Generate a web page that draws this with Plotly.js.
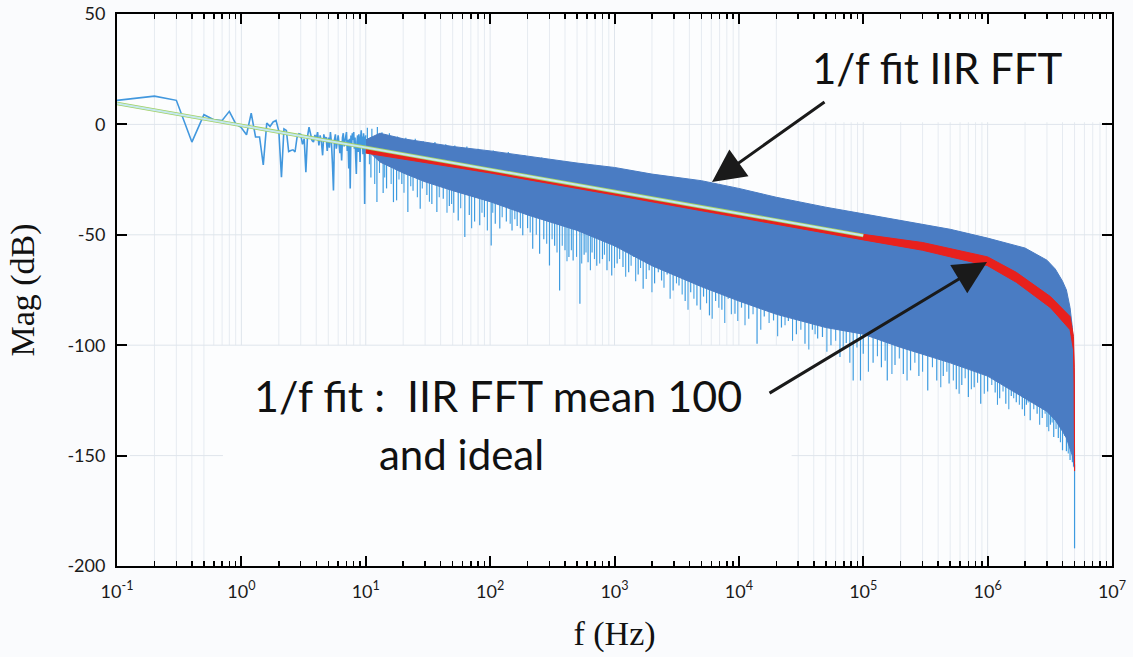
<!DOCTYPE html>
<html>
<head>
<meta charset="utf-8">
<script src="https://cdn.plot.ly/plotly-3.0.1.min.js"></script>
<style>html,body{margin:0;padding:0;background:#fafbfd;}#chart{width:1133px;height:657px;}</style>
</head>
<body>
<div id="chart"></div>
<script>
// Low-frequency FFT bins (0.1 Hz spacing)
const lowF = [0.1,0.2,0.3,0.4,0.5,0.6,0.7,0.8,0.9,1.0,
  1.1,1.2,1.3,1.4,1.5,1.6,1.7,1.8,1.9,2.0,
  2.1,2.2,2.3,2.4,2.5,2.6,2.7,2.8,2.9,3.0,
  3.1,3.2,3.3,3.4,3.5,3.6,3.7,3.8,3.9,4.0,
  4.1,4.2,4.3,4.4,4.5,4.6,4.7,4.8,4.9,5.0,
  5.1,5.2,5.3,5.4,5.5,5.6,5.7,5.8,5.9,6.0,
  6.1,6.2,6.3,6.4,6.5,6.6,6.7,6.8,6.9,7.0,
  7.1,7.2,7.3,7.4,7.5,7.6,7.7,7.8,7.9,8.0,
  8.1,8.2,8.3,8.4,8.5,8.6,8.7,8.8,8.9,9.0,
  9.1,9.2,9.3,9.4,9.5,9.6,9.7,9.8,9.9,10.0];
const lowDb = [10.9,12.8,10.9,-8.0,4.4,2.1,1.8,5.9,0.3,-1.5,
  -4.7,5.1,-5.7,-5.7,-18.3,0.6,-0.9,1.1,1.8,-3.0,
  -23.9,-2.0,-2.7,-12.3,-11.8,-11.5,-12.5,-6.0,-4.2,-4.5,
  -9.0,-6.5,-21.6,-5.5,-1.2,-4.0,-7.3,-8.0,-4.8,-6.5,
  -3.5,-9.5,-5.0,-8.0,-14.0,-4.5,-7.0,-5.7,-12.0,-6.0,
  -10.5,-3.5,-8.5,-18.0,-29.9,-7.0,-4.5,-11.0,-6.0,-5.0,
  -9.0,-13.0,-7.5,-16.3,-6.0,-4.0,-10.0,-8.0,-5.5,-3.5,
  -12.0,-7.0,-20.0,-6.5,-29.0,-5.0,-9.5,-4.0,-7.0,-3.5,
  -11.0,-6.0,-15.0,-22.4,-8.0,-5.0,-12.5,-4.5,-7.5,-17.0,
  -6.0,-2.7,-10.0,-5.5,-13.5,-4.0,-8.0,-36.0,-6.5,-5.0];

// Dense part of the IIR FFT spectrum: envelope of the solid band
const bandF     = [10,13,20,30,50,100,200,500,1e3,2e3,5e3,1e4,2e4,5e4,1e5,2e5,5e5,1e6,2e6,3e6,3.5e6,4e6,4.3e6,4.6e6,4.8e6,4.9e6,4.97e6,5e6];
const bandUpper = [-7,-4,-6.5,-8,-10,-12,-14.5,-17.5,-19.5,-22.5,-25.5,-29,-33,-37.5,-40.5,-43.5,-47.5,-51.5,-56,-61.5,-65.5,-71,-75,-83,-92,-100,-118,-152];
const bandLower = [-11,-17,-22,-26,-30,-35,-41,-48,-55,-64,-73.5,-80,-86,-92,-95,-101,-108,-114,-124,-130,-134,-139,-142,-147,-150,-153,-155,-156];

// Deep spikes that stick out of the band (frequency, dB)
const spikeF = [10.3,11,11.2,12.3,12.4,13.5,13.8,14.7,15.5,16.7,17.7,18,19.5,21,21.8,24,25,27.4,29,31,34,36,37.3,42,44,47,51,52,55.4,62.6,65,68,75,80,82.5,90,102,106,
  110,119.6,135,140,150,165,183,190,200,220,250,260,270,300,330,362,400,430,465,527,570,613,660,720,800,870,950,1050,1170,1300,1420,
  1550,1700,1900,2100,2390,2650,2960,3300,3700,4100,4600,5200,5800,6500,7300,8200,9300,
  1.05e4,1.2e4,1.4e4,1.6e4,1.9e4,2.2e4,2.5e4,2.9e4,3.4e4,3.9e4,4.3e4,4.7e4,5.5e4,6.5e4,7.3e4,8.3e4,9.5e4,
  1.0e5,1.2e5,1.4e5,1.56e5,1.8e5,2.1e5,2.4e5,2.8e5,3.3e5,3.9e5,4.4e5,4.9e5,5.6e5,6.2e5,7e5,7.8e5,8.8e5,1.0e6,
  1.15e6,1.25e6,1.4e6,1.55e6,1.7e6,1.9e6,2.05e6,2.2e6,2.5e6,2.75e6,3.0e6,3.2e6,3.4e6,3.7e6,4.0e6,4.3e6,4.6e6,4.8e6,5.0e6];
const spikeDb = [-1.5,-24,-2,-35.2,-1.2,-3.5,-31.1,-29,-4,-35.2,-34.4,-5.5,-27,-6,-39.7,-30,-6.5,-38.2,-7.6,-32,-36,-8,-39.7,-33.7,-9,-37,-40,-9.5,-43.5,-51,-10,-41,-44,-11,-45.7,-42,-54.8,-11.8,
  -45,-47.2,-44,-12.5,-48,-46,-50.2,-14,-47,-56.3,-58.6,-15,-52,-63.9,-55,-75.2,-57,-60,-61.6,-81.2,-59,-62.4,-58,-64,-61,-66,-68.4,-63,-64.6,-67,-60,
  -68,-74.4,-66,-72,-70.7,-68,-75.2,-73,-80,-76,-82,-78,-86.5,-80,-84,-79,-85.7,
  -83,-88,-99.3,-87,-88.8,-92,-89,-95,-99.3,-93,-97,-96.3,-100,-105.4,-99,-116,-116,
  -103.9,-108,-110,-116,-109,-113,-111.4,-114,-120.5,-116,-114,-117.4,-120,-118,-123.5,-119,-126.5,-121,
  -121.4,-124,-126.5,-123,-125.8,-129,-127,-134,-131,-133,-137,-136,-141.6,-142,-147.6,-148,-152,-153,-192];

// Shorter hairs just below the band (frequency, dB)
const fringeF = [10.7,11.8,12.9,14.2,16,18.5,20.3,23,26,28.5,32.5,39,45,49,58,71,86,95,
  105,125,145,158,175,210,235,285,315,345,380,415,450,495,545,590,640,690,760,830,910,1000,1100,1230,1360,
  1480,1620,1800,2000,2250,2500,2800,3150,3500,3900,4350,4900,5500,6100,6900,7700,8700,9800,
  1.12e4,1.3e4,1.5e4,1.75e4,2.05e4,2.35e4,2.7e4,3.15e4,3.65e4,4.1e4,5.1e4,6e4,6.9e4,7.8e4,8.9e4,
  1.1e5,1.3e5,1.5e5,1.7e5,1.95e5,2.25e5,2.6e5,3e5,3.6e5,4.2e5,4.7e5,5.3e5,5.9e5,6.6e5,7.4e5,8.3e5,9.4e5,
  1.08e6,1.2e6,1.33e6,1.48e6,1.62e6,1.8e6,1.98e6,2.12e6,2.35e6,2.62e6,2.9e6,3.1e6,3.3e6,3.55e6,3.85e6,4.15e6,4.45e6,4.7e6,4.9e6];
const fringeDb = [-18,-27,-22,-24,-27,-25,-31,-28,-33,-29,-35,-33,-40,-36,-38,-47,-40,-48,
  -40,-42,-45,-43,-47,-49,-50,-54,-52,-58,-55,-62,-57,-60,-63,-58,-66,-61,-63,-59,-62,-65,-61,-69,-64,
  -71,-65,-70,-76,-67,-74,-79,-72,-77,-84,-79,-84,-81,-88,-83,-90,-86,-89,
  -91,-86,-93,-90,-96,-91,-98,-93,-102,-95,-103,-98,-102,-108,-101,
  -112,-105,-107,-113,-106,-116,-108,-112,-110,-119,-112,-116,-122,-115,-120,-117,-122,
  -118,-127,-121,-129,-124,-127,-132,-126,-129,-136,-131,-139,-135,-138,-144,-141,-149,-147,-155];

// Mean of 100 IIR FFTs (red band)
const redF     = [10,100,1e3,1e4,1e5,3e5,1e6,1.7e6,3.2e6,4.6e6,4.9e6,4.97e6,5e6];
const redUpper = [-11,-20.6,-30.6,-40.5,-49.8,-53.5,-60,-67,-78,-87,-96,-110,-150];
const redLower = [-13,-22,-32,-42,-52.3,-57,-64,-71.5,-83,-93,-102,-118,-157];

// Ideal 1/f fit
const idealF  = [0.1, 1e5];
const idealDb = [9.5, -50.3];

// Axis ticks
const xTickVals = [0.1,1,10,100,1e3,1e4,1e5,1e6,1e7];
const xTickText = ['10<sup>-1</sup>','10<sup>0</sup>','10<sup>1</sup>','10<sup>2</sup>','10<sup>3</sup>','10<sup>4</sup>','10<sup>5</sup>','10<sup>6</sup>','10<sup>7</sup>'];
const yTickVals = [-200,-150,-100,-50,0,50];
const yTickText = ['-200','-150','-100','-50','0','50'];

const minorVals = [];
for (let d = -1; d < 7; d++) for (let k = 2; k <= 9; k++) minorVals.push(k * Math.pow(10, d));

function interpLog(f, F, V) {
  const lf = Math.log10(f);
  if (f <= F[0]) return V[0];
  for (let i = 1; i < F.length; i++) {
    if (f <= F[i]) {
      const a = Math.log10(F[i-1]), b = Math.log10(F[i]);
      const t = (lf - a) / (b - a);
      return V[i-1] + t * (V[i] - V[i-1]);
    }
  }
  return V[V.length-1];
}

function segs(F, D) {
  const sx = [], sy = [];
  F.forEach((f, i) => {
    const mid = (interpLog(f, bandF, bandUpper) + interpLog(f, bandF, bandLower)) / 2;
    sx.push(f, f, null);
    sy.push(mid, D[i], null);
  });
  return {sx, sy};
}
const s1 = segs(spikeF, spikeDb);
const s2 = segs(fringeF, fringeDb);

const bandX = bandF.concat(bandF.slice().reverse());
const bandY = bandUpper.concat(bandLower.slice().reverse());
const redX = redF.concat(redF.slice().reverse());
const redY = redUpper.concat(redLower.slice().reverse());

const traces = [
  {x: s2.sx, y: s2.sy, mode: 'lines', line: {color: '#45a0e2', width: 1.1}, hoverinfo: 'skip', showlegend: false},
  {x: s1.sx, y: s1.sy, mode: 'lines', line: {color: '#3d9be0', width: 1.2}, hoverinfo: 'skip', showlegend: false},
  {x: bandX, y: bandY, mode: 'lines', fill: 'toself', fillcolor: '#4a7cc3', line: {color: '#4a7cc3', width: 1}, showlegend: false, name: 'IIR FFT'},
  {x: lowF, y: lowDb, mode: 'lines', line: {color: '#4298de', width: 1.6}, showlegend: false, name: 'IIR FFT'},
  {x: redX, y: redY, mode: 'lines', fill: 'toself', fillcolor: '#e8211d', line: {color: '#e8211d', width: 1}, showlegend: false, name: 'IIR FFT mean 100'},
  {x: idealF, y: idealDb, mode: 'lines', line: {color: '#a2d064', width: 3.6}, showlegend: false, name: 'ideal'},
  {x: idealF, y: idealDb, mode: 'lines', line: {color: '#c4e8f0', width: 2}, showlegend: false, name: '1/f fit'}
];

// grid lines drawn as shapes so the text boxes can interrupt them
const box2 = {x0: 0.0965, x1: 0.684, y0: 0, y1: 0.400};
const box1 = {x0: 0.664, x1: 1, y0: 0.804, y1: 1};
const gridShapes = [];
function vline(px, y0, y1, color) {
  gridShapes.push({type: 'line', xref: 'paper', yref: 'paper', x0: px, x1: px, y0: y0, y1: y1, line: {color: color, width: 1}, layer: 'below'});
}
xTickVals.concat(minorVals).forEach((v, i) => {
  const px = (Math.log10(v) + 1) / 8;
  if (px <= 0.001 || px >= 0.999) return;
  const color = i < xTickVals.length ? '#dfe5ec' : '#e6ebf1';
  let y0 = 0, y1 = 1;
  if (px > box2.x0 && px < box2.x1) y0 = box2.y1;
  if (px > box1.x0 && px < box1.x1) y1 = box1.y0;
  vline(px, y0, y1, color);
});
yTickVals.forEach(v => {
  const py = (v + 200) / 250;
  if (py <= 0.001 || py >= 0.999) return;
  const c = {color: '#dfe5ec', width: 1};
  if (Math.abs(py - 0.2) < 1e-6) {
    gridShapes.push({type: 'line', xref: 'paper', yref: 'paper', x0: 0.013, x1: box2.x0 + 0.01, y0: py, y1: py, line: c, layer: 'below'});
    gridShapes.push({type: 'line', xref: 'paper', yref: 'paper', x0: box2.x1 - 0.006, x1: 1, y0: py, y1: py, line: c, layer: 'below'});
  } else {
    gridShapes.push({type: 'line', xref: 'paper', yref: 'paper', x0: 0, x1: 1, y0: py, y1: py, line: c, layer: 'below'});
  }
});

const axisCommon = {
  ticks: 'inside', ticklen: 10, tickwidth: 2, tickcolor: '#000',
  showline: true, linewidth: 2, linecolor: '#000', mirror: 'ticks',
  showgrid: false, zeroline: false,
  tickfont: {family: 'Lato, "Open Sans", sans-serif', size: 18, color: '#1a1a1a'}
};

const annFont = {family: 'Lato, "Open Sans", sans-serif', size: 42, color: '#111'};

const layout = {
  width: 1133, height: 657,
  margin: {l: 117, r: 21, t: 14, b: 91},
  paper_bgcolor: '#fafbfd', plot_bgcolor: '#fcfdfe',
  showlegend: false,
  xaxis: Object.assign({}, axisCommon, {
    type: 'log', range: [-1, 7],
    tickmode: 'array', tickvals: xTickVals, ticktext: xTickText,
    ticklabelstandoff: 8,
    minor: {tickmode: 'array', tickvals: minorVals, ticks: 'inside', ticklen: 5, tickwidth: 1.5, tickcolor: '#000', showgrid: false},
    title: {text: 'f (Hz)', font: {family: '"Liberation Serif", "Times New Roman", serif', size: 34, color: '#111'}, standoff: 21}
  }),
  yaxis: Object.assign({}, axisCommon, {
    range: [-200, 50],
    tickmode: 'array', tickvals: yTickVals, ticktext: yTickText,
    ticklabelstandoff: 6,
    title: {text: 'Mag (dB)', font: {family: '"Liberation Serif", "Times New Roman", serif', size: 34, color: '#111'}, standoff: 22}
  }),
  shapes: gridShapes,
  annotations: [
    {xref: 'paper', yref: 'paper', x: 0.825, y: 0.902, text: '1/f fit IIR FFT', showarrow: false, xanchor: 'center', yanchor: 'middle', font: annFont},
    {xref: 'paper', yref: 'paper', x: 0.383, y: 0.308, text: '1/f fit :&nbsp; IIR FFT mean 100', showarrow: false, xanchor: 'center', yanchor: 'middle',
     font: {family: 'Lato, "Open Sans", sans-serif', size: 43, color: '#111'}},
    {xref: 'paper', yref: 'paper', x: 0.346, y: 0.203, text: 'and ideal', showarrow: false, xanchor: 'center', yanchor: 'middle', font: annFont},
    {xref: 'paper', yref: 'paper', x: 0.598, y: 0.6957, ax: 114, ay: -81, text: '', showarrow: true,
     arrowhead: 2, arrowsize: 2.2, arrowwidth: 3, arrowcolor: '#1a1a1a'},
    {xref: 'paper', yref: 'paper', x: 0.8744, y: 0.5507, ax: -219, ay: 132, text: '', showarrow: true,
     arrowhead: 2, arrowsize: 2.2, arrowwidth: 3, arrowcolor: '#1a1a1a'}
  ]
};

Plotly.newPlot('chart', traces, layout, {displayModeBar: false, staticPlot: true});
</script>
</body>
</html>
